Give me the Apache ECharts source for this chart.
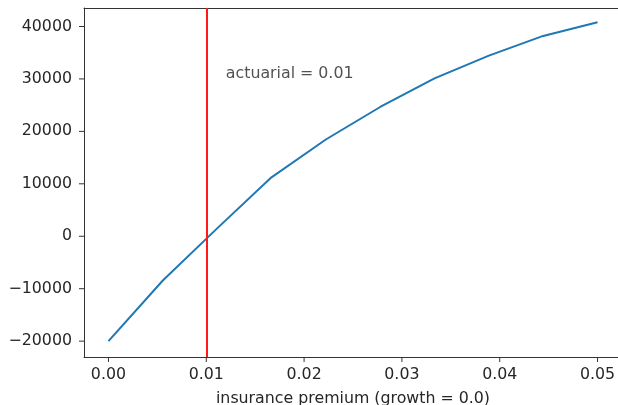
<!DOCTYPE html>
<html>
<head>
<meta charset="utf-8">
<script src="https://cdn.jsdelivr.net/npm/echarts@6/dist/echarts.min.js"></script>
<style>
  html, body { margin: 0; padding: 0; background: #fff; overflow: hidden; }
  #chart { width: 640px; height: 430px; }
</style>
</head>
<body>
<div id="chart"></div>
<script>
// premium values (linspace 0..0.05, 10 points)
const premiums = [0, 0.005556, 0.011111, 0.016667, 0.022222, 0.027778, 0.033333, 0.038889, 0.044444, 0.05];
const profits = [-20000, -8430, 1500, 11240, 18450, 24650, 30100, 34450, 38200, 40800];
const xTicks = [0, 0.01, 0.02, 0.03, 0.04, 0.05];
const yTicks = [-20000, -10000, 0, 10000, 20000, 30000, 40000];
const actuarial = 0.01;
const noteAt = [0.012, 30000];

const xMin = -0.0025, xMax = 0.0525;
const yMin = -23025, yMax = 43525;

const font = 'DejaVu Sans';
const fs = 15.8;
const txt = '#262626';
const frame = '#333';
const tickLen = 5;

let chart = echarts.init(document.getElementById('chart'));

let pairs = premiums.map((p, i) => [p, profits[i]]);

// bare axis used only to draw the top / right frame lines
function frameAxis(pos, min, max) {
  return {
    type: 'value', position: pos, min: min, max: max,
    axisLine: { show: true, onZero: false, lineStyle: { color: frame } },
    axisTick: { show: false }, axisLabel: { show: false }, splitLine: { show: false }
  };
}

// tick marks drawn outside the plot (axisTick would not show here)
function tickSeries(data, dx, dy) {
  return {
    type: 'custom',
    silent: true,
    clip: false,
    data: data,
    renderItem: function (params, api) {
      let p = api.coord([api.value(0), api.value(1)]);
      return {
        type: 'line',
        shape: { x1: p[0], y1: p[1], x2: p[0] + dx, y2: p[1] + dy },
        style: { stroke: frame, lineWidth: 1 }
      };
    }
  };
}

let option = {
  animation: false,
  grid: {
    left: 84, top: 8, right: 18, bottom: 73,
    show: false
  },
  xAxis: [{
    type: 'value',
    position: 'bottom',
    min: xMin,
    max: xMax,
    splitLine: { show: false },
    axisLine: { show: true, onZero: false, lineStyle: { color: frame } },
    axisTick: { show: false },
    axisLabel: {
      customValues: xTicks,
      margin: 10,
      color: txt, fontFamily: font, fontSize: fs,
      formatter: v => v.toFixed(2)
    },
    name: 'insurance premium (growth = 0.0)',
    nameLocation: 'middle',
    nameGap: 34,
    nameTextStyle: { color: txt, fontFamily: font, fontSize: fs }
  }, frameAxis('top', xMin, xMax)],
  yAxis: [{
    type: 'value',
    position: 'left',
    min: yMin,
    max: yMax,
    splitLine: { show: false },
    axisLine: { show: true, onZero: false, lineStyle: { color: frame } },
    axisTick: { show: false },
    axisLabel: {
      customValues: yTicks,
      margin: 12,
      color: txt, fontFamily: font, fontSize: fs,
      formatter: v => (v < 0 ? '\u2212' + Math.abs(v) : String(v))
    }
  }, frameAxis('right', yMin, yMax)],
  series: [
    {
      type: 'line',
      data: pairs,
      symbol: 'none',
      lineStyle: { color: '#1f77b4', width: 2 },
      markLine: {
        silent: true,
        symbol: 'none',
        label: { show: false },
        lineStyle: { color: '#ff1a1a', width: 2, type: 'solid' },
        data: [{ xAxis: actuarial }]
      }
    },
    {
      type: 'scatter',
      data: [noteAt],
      symbolSize: 0,
      label: {
        show: true,
        position: [0, 3],
        align: 'left',
        verticalAlign: 'bottom',
        formatter: 'actuarial = ' + actuarial,
        color: txt, fontFamily: font, fontSize: fs
      }
    },
    tickSeries(xTicks.map(v => [v, yMin]), 0, tickLen),
    tickSeries(yTicks.map(v => [xMin, v]), -tickLen, 0)
  ]
};
chart.setOption(option);
</script>
</body>
</html>
